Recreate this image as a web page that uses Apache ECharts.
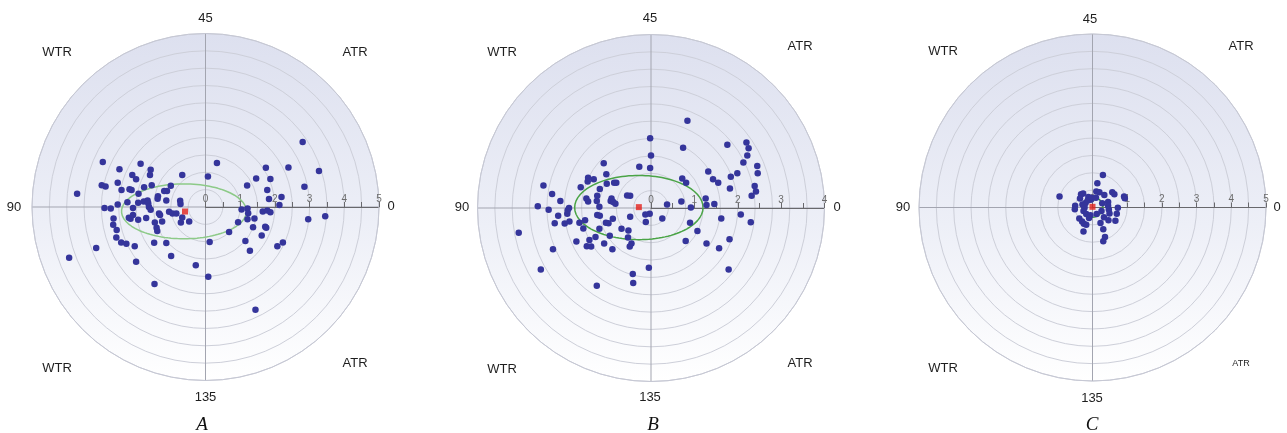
<!DOCTYPE html>
<html><head><meta charset="utf-8">
<script src="https://cdn.jsdelivr.net/npm/echarts@6/dist/echarts.min.js"></script>
<style>html,body{margin:0;padding:0;background:#fff}#c{width:1287px;height:433px}</style>
</head><body><div id="c"></div>
<script>
// ---------- DATA ----------
const panelNames = ['A', 'B', 'C'];
const axisMax = [5, 4, 5];           // radial axis range per panel (ticks every 0.5, labels on integers)
const directionLabels = ['45', '135', '90', '0'];
const quadrantLabels = ['WTR', 'ATR', 'WTR', 'ATR'];

const pointsA = [
  [2.80,1.87],[3.27,1.04],[2.39,1.14],[1.74,1.13],[1.46,0.82],[1.87,0.81],[2.85,0.58],[1.20,0.62],[1.78,0.49],
  [1.83,0.23],[2.19,0.29],[2.13,0.06],[0.33,1.27],[0.07,0.88],[1.04,-0.07],[1.21,-0.04],[1.23,-0.18],[1.21,-0.35],
  [0.94,-0.44],[1.41,-0.33],[1.65,-0.13],[1.78,-0.10],[1.87,-0.15],[1.37,-0.58],[1.72,-0.57],[1.75,-0.60],[1.62,-0.82],
  [2.96,-0.35],[3.45,-0.27],[0.68,-0.72],[1.15,-0.98],[1.28,-1.26],[2.07,-1.13],[2.23,-1.02],[0.12,-1.01],[0.08,-2.01],
  [-0.28,-1.68],[1.44,-2.96],
  [-0.67,0.92],[-0.73,0.18],[-0.72,0.09],[-0.67,-0.30],[-0.71,-0.45],[-0.47,-0.42],[-1.00,0.61],[-1.11,0.46],[-1.19,0.46],
  [-1.13,0.19],[-1.37,0.31],[-1.38,0.24],[-1.05,-0.14],[-0.95,-0.19],[-0.84,-0.19],[-1.34,-0.19],[-1.31,-0.23],[-1.25,-0.42],
  [-1.46,-0.45],[-1.41,-0.60],[-1.39,-0.69],[-1.13,-1.04],[-1.48,-1.03],[-0.99,-1.41],[-1.47,-2.22],[-1.55,0.63],[-1.58,1.07],
  [-1.60,0.92],[-1.87,1.25],[-2.00,0.80],[-2.11,0.92],[-2.48,1.09],[-2.96,1.30],[-2.53,0.70],[-2.99,0.63],[-2.88,0.59],
  [-2.42,0.49],[-2.19,0.51],[-2.13,0.49],[-1.93,0.38],[-1.77,0.57],[-2.25,0.14],[-2.53,0.07],[-2.73,-0.04],[-2.91,-0.03],
  [-2.09,-0.03],[-1.94,0.12],[-1.78,0.16],[-1.67,0.19],[-1.65,0.11],[-1.63,0.00],[-1.58,-0.08],[-1.71,-0.32],[-1.94,-0.37],
  [-2.16,-0.34],[-2.21,-0.31],[-2.09,-0.23],[-2.65,-0.33],[-2.66,-0.51],[-2.56,-0.66],[-2.57,-0.88],[-2.43,-1.02],[-2.28,-1.06],
  [-2.04,-1.13],[-2.00,-1.58],[-3.15,-1.18],[-3.70,0.38],[-3.93,-1.46]
];
const pointsB = [
  [0.84,2.01],[-0.02,1.61],[0.74,1.39],[1.76,1.46],[2.20,1.51],[2.25,1.38],[2.22,1.21],[2.13,1.05],[1.99,0.80],[1.84,0.72],
  [2.45,0.97],[2.46,0.80],[2.39,0.51],[2.42,0.38],[2.32,0.28],[1.82,0.45],[1.32,0.84],[1.43,0.66],[1.55,0.58],[0.81,0.58],
  [0.72,0.68],[0.00,1.21],[-0.02,0.92],[-0.27,0.95],[1.26,0.22],[1.28,0.07],[1.46,0.09],[0.70,0.15],[0.92,0.01],[0.37,0.08],
  [1.62,-0.24],[0.90,-0.34],[1.07,-0.53],[2.07,-0.15],[2.30,-0.33],[1.81,-0.72],[1.57,-0.93],[1.28,-0.82],[0.80,-0.76],
  [1.79,-1.42],[0.26,-0.24],[-0.03,-0.13],[-0.13,-0.15],[-0.12,-0.32],[-0.05,-1.38],[-0.42,-1.52],[-0.41,-1.73],[-1.25,-1.79],
  [-0.48,-0.20],[-0.52,-0.52],[-0.53,-0.68],[-0.45,-0.82],[-0.49,-0.89],[-0.68,-0.48],[-0.48,0.28],[-0.55,0.29],[-0.80,0.58],
  [-0.85,0.58],[-1.02,0.56],[-1.09,1.03],[-1.03,0.78],[-1.18,0.44],[-1.32,0.66],[-1.45,0.70],[-1.46,0.61],[-1.62,0.48],
  [-1.49,0.22],[-1.45,0.15],[-1.25,0.16],[-1.24,0.28],[-1.19,0.03],[-1.24,-0.16],[-1.18,-0.18],[-0.91,0.22],[-0.93,0.16],
  [-0.87,0.14],[-0.82,0.10],[-0.88,-0.25],[-1.04,-0.34],[-0.98,-0.35],[-0.95,-0.64],[-0.89,-0.95],[-1.08,-0.82],[-1.28,-0.67],
  [-1.42,-0.74],[-1.48,-0.88],[-1.38,-0.89],[-1.19,-0.48],[-1.52,-0.28],[-1.56,-0.47],[-1.72,-0.77],[-1.65,-0.34],[-1.88,-0.31],
  [-1.99,-0.36],[-2.22,-0.35],[-2.14,-0.18],[-1.93,-0.13],[-1.92,-0.05],[-1.89,0.00],[-2.36,-0.04],[-2.61,0.04],[-2.09,0.16],
  [-2.28,0.32],[-2.48,0.52],[-2.26,-0.95],[-2.54,-1.42],[-3.05,-0.57]
];
const pointsC = [
  [0.30,0.94],[0.14,0.70],[-0.95,0.32],[-0.33,0.38],[-0.27,0.40],[0.11,0.46],[0.20,0.44],[0.34,0.36],[0.57,0.44],[0.63,0.38],
  [0.91,0.32],[0.93,0.27],[-0.36,0.26],[-0.12,0.30],[-0.05,0.22],[-0.50,0.05],[-0.51,-0.05],[-0.29,0.09],[-0.23,-0.01],
  [-0.26,-0.10],[-0.18,-0.19],[-0.06,-0.22],[0.12,-0.19],[0.26,-0.10],[0.28,0.12],[0.45,0.16],[0.47,-0.06],[0.49,-0.17],
  [0.73,-0.01],[0.70,-0.18],[0.66,-0.38],[0.46,-0.37],[0.23,-0.45],[-0.38,-0.32],[-0.30,-0.40],[-0.25,-0.47],[-0.18,-0.50],
  [-0.26,-0.69],[0.31,-0.63],[0.36,-0.85],[0.31,-0.97],[-0.20,0.13],[-0.14,0.20],[-0.24,0.05],[-0.02,0.28],[0.10,0.28],
  [0.45,0.05],[0.33,-0.28],[-0.10,-0.30]
];
const meanA = [-0.59, -0.13];
const meanB = [-0.28, 0.02];
const meanC = [0.00, 0.02];
// ellipse: [centerX, centerY, semiAxisX, semiAxisY]
const ellipseA = [-0.62, -0.125, 1.80, 0.79];
const ellipseB = [-0.28, 0.01, 1.48, 0.74];
const ellipseC = [0.00, 0.01, 0.30, 0.29];

// ---------- LAYOUT / STYLE ----------
const pointSets = [pointsA, pointsB, pointsC];
const means = [meanA, meanB, meanC];
const ellipses = [ellipseA, ellipseB, ellipseC];
const ellipseColors = ['#8dca88', '#4aa446', '#3aa03a'];
const layout = [
  {cx: 205.5, cy: 207, r: 173.5,
   pos: [[205.5,18],[205.5,397],[14,207],[391,206]],
   quad: [[57,52],[355,52],[57,368],[355,363]], quadSize: [13,13,13,13], letter: [202,425]},
  {cx: 651, cy: 208, r: 173.5,
   pos: [[650,18],[650,397],[462,207],[837,207]],
   quad: [[502,52],[800,46],[502,369],[800,363]], quadSize: [13,13,13,13], letter: [653,425]},
  {cx: 1092.5, cy: 207.5, r: 173.5,
   pos: [[1090,19],[1092,398],[903,207],[1277,207]],
   quad: [[943,51],[1241,46],[943,368],[1241,364]], quadSize: [13,13,13,9], letter: [1092,425]}
];

function ellipsePath(e) {
  const pts = [];
  const n = 120;
  for (let k = 0; k <= n; k++) {
    const t = 2 * Math.PI * k / n;
    pts.push([e[0] + e[2] * Math.cos(t), e[1] + e[3] * Math.sin(t)]);
  }
  return pts;
}

const polar = [], angleAxis = [], radiusAxis = [], grid = [], xAxis = [], yAxis = [], series = [], graphics = [];

layout.forEach((L, i) => {
  const R = axisMax[i];
  // rings polar
  polar.push({center: [L.cx, L.cy], radius: L.r});
  angleAxis.push({polarIndex: 2*i, type: 'value', min: 0, max: 360, interval: 90, startAngle: 0,
    axisLine: {show: true, lineStyle: {color: '#c6c8d4', width: 1}},
    axisTick: {show: false}, axisLabel: {show: false},
    splitLine: {show: true, lineStyle: {color: '#a3a5b0', width: 1}}});
  radiusAxis.push({polarIndex: 2*i, type: 'value', min: 0, max: 10, interval: 1,
    axisLine: {show: false}, axisTick: {show: false}, axisLabel: {show: false},
    splitLine: {show: true, lineStyle: {color: '#cdcfd9', width: 1}}});
  // labelled radial axis polar
  polar.push({center: [L.cx, L.cy], radius: L.r});
  angleAxis.push({polarIndex: 2*i+1, type: 'value', min: 0, max: 360, startAngle: 0, show: false});
  radiusAxis.push({polarIndex: 2*i+1, type: 'value', min: 0, max: R, interval: 0.5,
    axisLine: {show: true, lineStyle: {color: '#68686c', width: 1}},
    axisTick: {show: true, length: 5, lineStyle: {color: '#68686c'}},
    axisLabel: {show: true, fontSize: 10, color: '#6c6c6c', margin: 3, fontFamily: 'Liberation Sans',
      formatter: v => (Math.abs(v - Math.round(v)) < 1e-6 ? String(Math.round(v)) : '')},
    splitLine: {show: false}});
  // cartesian overlay for data
  grid.push({left: L.cx - L.r, top: L.cy - L.r, width: 2*L.r, height: 2*L.r, show: false});
  xAxis.push({gridIndex: i, type: 'value', min: -R, max: R, show: false});
  yAxis.push({gridIndex: i, type: 'value', min: -R, max: R, show: false});

  series.push({type: 'line', xAxisIndex: i, yAxisIndex: i, data: ellipsePath(ellipses[i]),
    showSymbol: false, symbol: 'none', smooth: false, silent: true,
    lineStyle: {color: ellipseColors[i], width: 1.5}, z: 3});
  series.push({type: 'scatter', xAxisIndex: i, yAxisIndex: i, data: pointSets[i],
    symbolSize: 6.5, itemStyle: {color: '#35359b', opacity: 1}, z: 4});
  series.push({type: 'scatter', xAxisIndex: i, yAxisIndex: i, data: [means[i]],
    symbol: 'rect', symbolSize: 6, itemStyle: {color: '#e3201c'}, z: 5});

  // background disk
  graphics.push({type: 'circle', shape: {cx: L.cx, cy: L.cy, r: L.r}, silent: true, z: -100,
    style: {fill: new echarts.graphic.LinearGradient(0, 0, 0, 1, [
      {offset: 0, color: '#dde0ef'}, {offset: 0.55, color: '#edeff7'}, {offset: 1, color: '#ffffff'}])}});
  // direction labels
  directionLabels.forEach((t, k) => {
    graphics.push({type: 'text', x: L.pos[k][0], y: L.pos[k][1], z: 100,
      style: {text: t, fill: '#1e1e1e', font: '13px "Liberation Sans", Arial, sans-serif',
        align: 'center', verticalAlign: 'middle', textAlign: 'center', textVerticalAlign: 'middle'}});
  });
  quadrantLabels.forEach((t, k) => {
    graphics.push({type: 'text', x: L.quad[k][0], y: L.quad[k][1], z: 100,
      style: {text: t, fill: '#1e1e1e', font: L.quadSize[k] + 'px "Liberation Sans", Arial, sans-serif',
        align: 'center', verticalAlign: 'middle', textAlign: 'center', textVerticalAlign: 'middle'}});
  });
  graphics.push({type: 'text', x: L.letter[0], y: L.letter[1], z: 100,
    style: {text: panelNames[i], fill: '#111', font: 'italic 19px "Liberation Serif", "Times New Roman", serif',
      align: 'center', verticalAlign: 'middle', textAlign: 'center', textVerticalAlign: 'middle'}});
});

const chart = echarts.init(document.getElementById('c'), null, {renderer: 'canvas'});
chart.setOption({
  animation: false,
  backgroundColor: '#ffffff',
  polar, angleAxis, radiusAxis, grid, xAxis, yAxis, series,
  graphic: {elements: graphics}
});
</script>
</body></html>
